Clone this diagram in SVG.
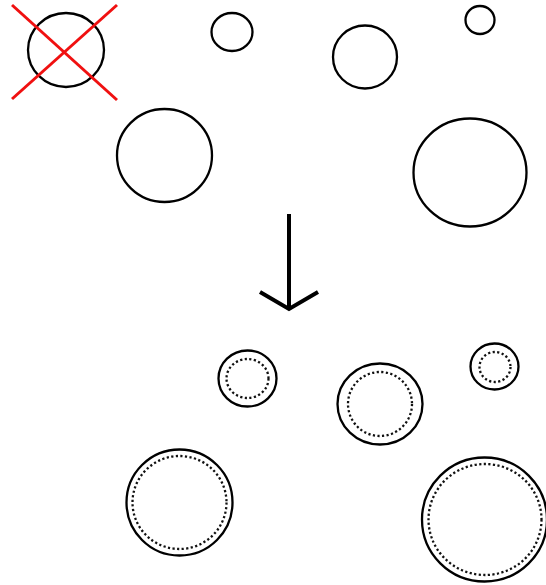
<svg xmlns="http://www.w3.org/2000/svg" width="546" height="585" viewBox="0 0 546 585">
<style>
.c{fill:none;stroke:#000;stroke-width:2.3}
.d{fill:none;stroke:#111;stroke-width:2.3;stroke-dasharray:2.2 2.4}
.x{stroke:#f01010;stroke-width:3;stroke-linecap:butt}
.a{fill:none;stroke:#000;stroke-width:4}
</style>
<rect width="546" height="585" fill="#fff"/>
<g id="n1"><ellipse class="c" cx="66" cy="50" rx="38" ry="37"/>
<line class="x" x1="12" y1="5" x2="117" y2="100"/><line class="x" x1="117" y1="5" x2="12" y2="99"/></g>
<g id="n2"><ellipse class="c" cx="232" cy="32" rx="20.5" ry="19"/></g>
<g id="n3"><ellipse class="c" cx="365" cy="57" rx="32" ry="31.5"/></g>
<g id="n4"><ellipse class="c" cx="480" cy="20" rx="14.5" ry="14"/></g>
<g id="n5"><ellipse class="c" cx="164.5" cy="155.5" rx="47.5" ry="46.5"/></g>
<g id="n6"><ellipse class="c" cx="470" cy="172.5" rx="56.5" ry="54"/></g>
<g id="connectors"><path class="a" d="M289 214V309M260 292L289 309L318 292"/></g>
<g id="n7"><ellipse class="c" cx="247.5" cy="378.5" rx="29" ry="28"/><ellipse class="d" cx="247.5" cy="378.5" rx="21" ry="19.5"/></g>
<g id="n8"><ellipse class="c" cx="380" cy="404" rx="42.5" ry="40.5"/><ellipse class="d" cx="380" cy="404" rx="32" ry="32"/></g>
<g id="n9"><ellipse class="c" cx="494.5" cy="366.5" rx="24" ry="23"/><ellipse class="d" cx="495" cy="367" rx="15.5" ry="15"/></g>
<g id="n10"><ellipse class="c" cx="179.5" cy="502.5" rx="53" ry="53"/><ellipse class="d" cx="179.5" cy="502.5" rx="47" ry="46.5"/></g>
<g id="n11"><ellipse class="c" cx="484.5" cy="519.5" rx="62.5" ry="62"/><ellipse class="d" cx="485" cy="519.5" rx="56.5" ry="55.5"/></g>
</svg>
